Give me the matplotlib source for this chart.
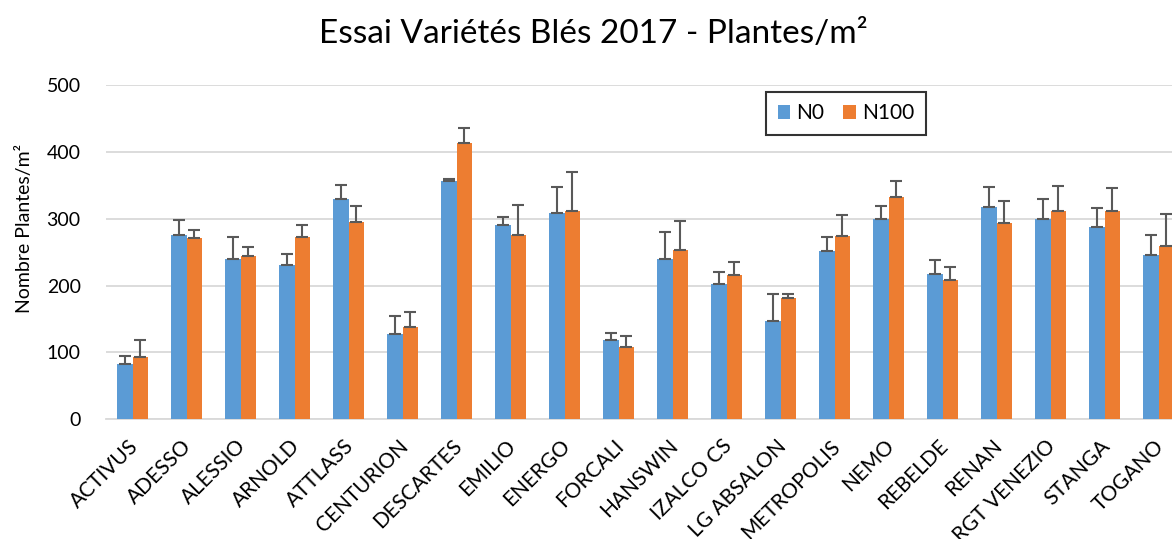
import numpy as np
import matplotlib
matplotlib.use("Agg")
import matplotlib.pyplot as plt
import matplotlib.transforms as transforms

plt.rcParams["font.family"] = ["Lato", "DejaVu Sans"]

# Data
varietes = ["ACTIVUS", "ADESSO", "ALESSIO", "ARNOLD", "ATTLASS", "CENTURION",
            "DESCARTES", "EMILIO", "ENERGO", "FORCALI", "HANSWIN", "IZALCO CS",
            "LG ABSALON", "METROPOLIS", "NEMO", "REBELDE", "RENAN",
            "RGT VENEZIO", "STANGA", "TOGANO"]
n0 = [83, 275, 240, 231, 329, 127, 356, 291, 308, 119, 240, 203, 147, 252,
      300, 217, 317, 299, 287, 246]
n100 = [93, 271, 244, 273, 295, 138, 413, 275, 311, 108, 253, 216, 181, 274,
        333, 208, 293, 312, 312, 259]
err_n0 = [12, 23, 32, 16, 22, 28, 3, 12, 39, 10, 40, 18, 41, 21, 19, 21,
          30, 31, 29, 30]
err_n100 = [25, 12, 14, 18, 24, 22, 23, 46, 59, 17, 43, 19, 6, 32, 23, 20,
            34, 37, 34, 48]

blue = "#5B9BD5"
orange = "#ED7D31"

fig = plt.figure(figsize=(11.72, 5.39), dpi=100)
# axes runs past the right edge, the original picture is cropped there
ax = fig.add_axes([0.0902, 0.222, 0.9215, 0.6203])

x = np.arange(len(varietes))
w = 0.284
ekw = dict(ecolor="#595959", elinewidth=1.5, capsize=4.5, capthick=1.5)
ax.bar(x - w / 2, n0, w, color=blue, label="N0", zorder=3,
       yerr=[np.zeros(len(n0)), err_n0], error_kw=ekw)
ax.bar(x + w / 2, n100, w, color=orange, label="N100", zorder=3,
       yerr=[np.zeros(len(n100)), err_n100], error_kw=ekw)

ax.set_xlim(-0.5, len(varietes) - 0.5)
ax.set_ylim(0, 500)
ax.set_yticks(np.arange(0, 501, 100))
ax.yaxis.grid(True, color="#D9D9D9", linewidth=1.3, zorder=0)
ax.set_axisbelow(True)
for s in ["top", "right", "left"]:
    ax.spines[s].set_visible(False)
ax.spines["bottom"].set_color("#D9D9D9")
ax.spines["bottom"].set_linewidth(1.3)
ax.tick_params(axis="both", length=0, colors="#000000")
ax.tick_params(axis="y", pad=18, labelsize=14)

ax.set_xticks(x)
ax.set_xticklabels(varietes, rotation=45, ha="right", va="top",
                   rotation_mode="anchor", fontsize=15)
ax.tick_params(axis="x", pad=12)
shift = transforms.ScaledTranslation(-5 / 100, 0, fig.dpi_scale_trans)
for lab in ax.get_xticklabels():
    lab.set_transform(lab.get_transform() + shift)

ax.set_ylabel("Nombre Plantes/m²", fontsize=14)
ax.yaxis.set_label_coords(-0.0673, 0.572)
fig.text(0.506, 0.937, "Essai Variétés Blés 2017 - Plantes/m²",
         ha="center", va="center", fontsize=24)

leg = ax.legend(loc="center", bbox_to_anchor=(0.6855, 0.915), ncol=2,
                fontsize=15, frameon=True, fancybox=False,
                handlelength=0.6, handleheight=0.6, handletextpad=0.3,
                columnspacing=0.9, borderpad=0.55)
leg.get_frame().set_edgecolor("black")
leg.get_frame().set_linewidth(1.5)

fig.savefig("out.png", dpi=100)
